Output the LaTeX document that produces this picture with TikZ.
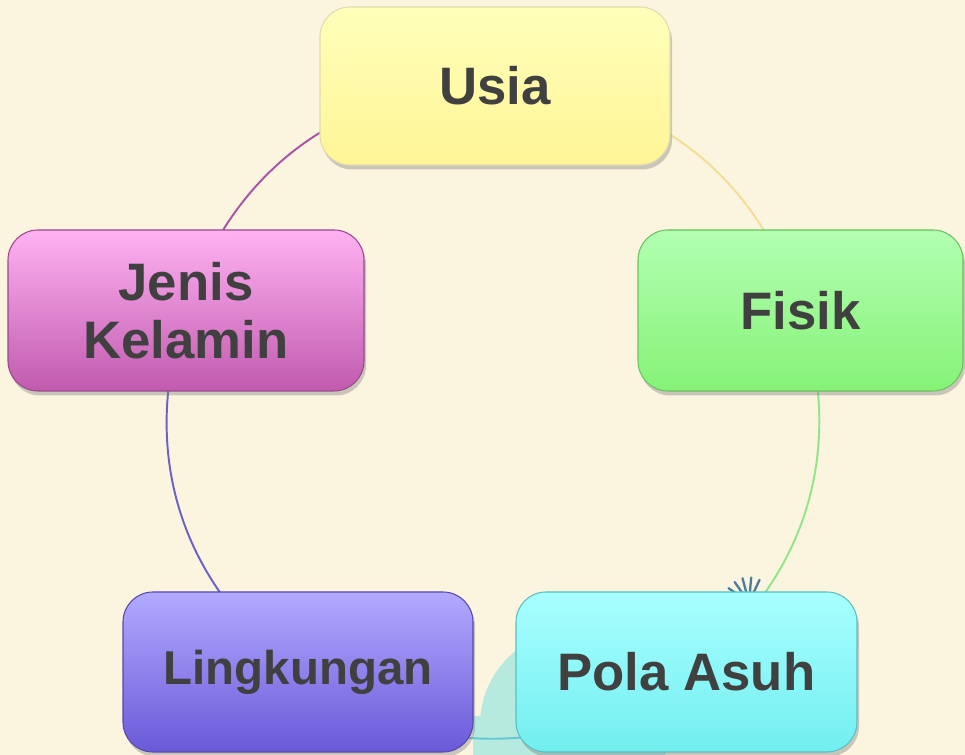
\documentclass[tikz,border=0pt]{standalone}
\usepackage{fontspec}
\setsansfont{Liberation Sans}
\usepackage{tikz}
\usetikzlibrary{shadows,backgrounds}

\definecolor{bgcream}{HTML}{FBF4DF}
\definecolor{txtgray}{HTML}{404040}
\definecolor{usiatop}{HTML}{FFFFBA}
\definecolor{usiabot}{HTML}{FFF596}
\definecolor{fisiktop}{HTML}{B2FFB2}
\definecolor{fisikbot}{HTML}{86F276}
\definecolor{jenistop}{HTML}{FFB2F2}
\definecolor{jenisbot}{HTML}{C05AAE}
\definecolor{lingtop}{HTML}{B2AAFF}
\definecolor{lingbot}{HTML}{6A5AD8}
\definecolor{polatop}{HTML}{A8FFFF}
\definecolor{polabot}{HTML}{72EEF0}
\definecolor{blobteal}{HTML}{B6EADF}
\definecolor{starblue}{HTML}{4A7C9C}
\definecolor{arcusia}{HTML}{F2DE96}
\definecolor{arcfisik}{HTML}{92E48A}
\definecolor{arcpola}{HTML}{62C8D2}
\definecolor{arcling}{HTML}{6A62CC}
\definecolor{arcjenis}{HTML}{A654A6}

\begin{document}
\begin{tikzpicture}
            \tikzset{
                faktor/.style={rounded corners=0.6cm, font=\sffamily\bfseries\fontsize{30}{33}\selectfont,
                    text=txtgray, align=center, line width=0.6pt,
                    drop shadow={shadow xshift=0.04cm, shadow yshift=-0.09cm, opacity=0.4}},
                siklus/.style={line width=1.1pt, bend left=36},}
            \useasboundingbox (0,0) rectangle (19.3,15.1);
            \node[faktor, minimum width=7cm, minimum height=3.16cm, top color=usiatop, bottom color=usiabot, draw=usiabot!80!black!60] (usia) at (9.9,13.38) {Usia};
            \node[faktor, minimum width=6.5cm, minimum height=3.22cm, top color=fisiktop, bottom color=fisikbot, draw=fisikbot!80!black] (fisik) at (16.01,8.89) {Fisik};
            \node[faktor, minimum width=6.82cm, minimum height=3.2cm, top color=polatop, bottom color=polabot, draw=polabot!80!black] (pola) at (13.73,1.66) {Pola Asuh};
            \node[faktor, minimum width=7cm, minimum height=3.2cm, top color=lingtop, bottom color=lingbot, draw=lingbot!80!black,
                font=\sffamily\bfseries\fontsize{27}{30}\selectfont] (ling) at (5.96,1.66) {Lingkungan};
            \node[faktor, minimum width=7.12cm, minimum height=3.22cm, top color=jenistop, bottom color=jenisbot, draw=jenisbot!80!black] (jenis) at (3.72,8.89) {Jenis\\Kelamin};
            \begin{scope}[on background layer]
                \fill[bgcream] (0,0) rectangle (19.3,15.1);
                % hiasan slide di bawah
                \fill[blobteal] (11.5,0.6) circle (1.9cm);
                \fill[blobteal] (9.46,0) rectangle (10.4,0.78);
                \foreach \a in {65,85,105,125,145}
                    \draw[starblue, line width=1.3pt, line cap=round] (14.98,3.05) -- ++(\a:0.5);
                \draw[siklus, draw=arcusia] (usia.center) to (fisik.center);
                \draw[siklus, draw=arcfisik] (fisik.center) to (pola.center);
                \draw[siklus, draw=arcpola] (pola.center) to (ling.center);
                \draw[siklus, draw=arcling] (ling.center) to (jenis.center);
                \draw[siklus, draw=arcjenis] (jenis.center) to (usia.center);
            \end{scope}
        \end{tikzpicture}
\end{document}
